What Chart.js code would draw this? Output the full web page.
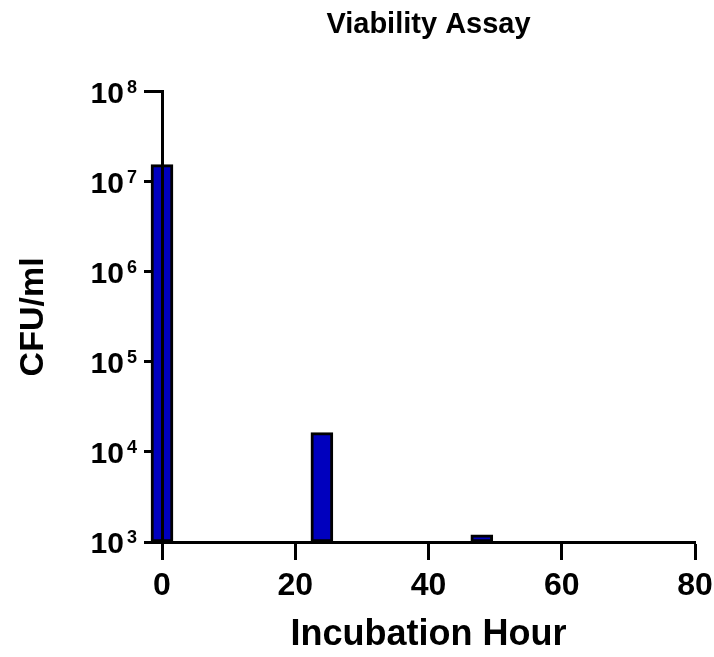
<!DOCTYPE html>
<html>
<head>
<meta charset="utf-8">
<script src="https://cdn.jsdelivr.net/npm/chart.js@4.4.1/dist/chart.umd.min.js"></script>
<style>
    html, body { margin: 0; padding: 0; background: #fff; }
    #wrap { width: 714px; height: 657px; }
</style>
</head>
<body>
<div id="wrap"><canvas id="assayChart" width="714" height="657"></canvas></div>
<script>
const hours = [0, 24, 48];
const cfuPerMl = [1.55e7, 1.64e4, 1.2e3];
const xTicks = [0, 20, 40, 60, 80];
const yExponents = [3, 4, 5, 6, 7, 8];

const FONT = "'Liberation Sans', Arial, sans-serif";

const points = hours.map((h, i) => ({ x: h, y: cfuPerMl[i] }));

// draws the y tick labels as 10 with a raised exponent, like the original
const powerLabels = {
    id: 'powerLabels',
    afterDraw(chart) {
        const scale = chart.scales.y;
        const c = chart.ctx;
        const right = scale.right - 18 - 7;
        c.save();
        c.fillStyle = '#000';
        c.textBaseline = 'alphabetic';
        scale.ticks.forEach(t => {
            const y = scale.getPixelForValue(t.value);
            const exp = String(Math.round(Math.log10(t.value)));
            c.font = `bold 18px ${FONT}`;
            const ew = c.measureText(exp).width;
            c.textAlign = 'left';
            c.fillText(exp, right - ew, y + 1);
            c.font = `bold 30px ${FONT}`;
            c.textAlign = 'right';
            c.fillText('10', right - ew - 3, y + 11);
        });
        c.restore();
    }
};

const ctx = document.getElementById('assayChart').getContext('2d');

new Chart(ctx, {
    type: 'bar',
    data: {
        datasets: [{
            label: 'CFU/ml',
            data: points,
            backgroundColor: '#0000BE',
            borderColor: '#000',
            borderWidth: 3,
            borderSkipped: false,
            barThickness: 22,
            clip: false
        }]
    },
    options: {
        responsive: false,
        animation: false,
        devicePixelRatio: 1,
        layout: {
            padding: { left: 0, right: 19, top: 0, bottom: 0 }
        },
        plugins: {
            legend: { display: false },
            tooltip: { enabled: false },
            title: {
                display: true,
                fullSize: false,
                text: 'Viability Assay',
                color: '#000',
                font: { family: FONT, size: 29, weight: 'bold' },
                padding: { top: 8, bottom: 49 }
            }
        },
        scales: {
            x: {
                type: 'linear',
                min: 0,
                max: 80,
                offset: false,
                afterBuildTicks: (scale) => {
                    scale.ticks = xTicks.map(v => ({ value: v }));
                },
                afterFit: (scale) => {
                    scale.height = 115;
                    scale.paddingLeft = 0;
                    scale.paddingRight = 0;
                },
                grid: {
                    display: true,
                    drawOnChartArea: false,
                    drawTicks: true,
                    tickLength: 18,
                    tickWidth: 3,
                    tickColor: '#000',
                    offset: false
                },
                border: { display: true, color: '#000', width: 3, z: 1 },
                ticks: {
                    color: '#000',
                    padding: 7,
                    maxRotation: 0,
                    font: { family: FONT, size: 32, weight: 'bold' }
                },
                title: {
                    display: true,
                    text: 'Incubation Hour',
                    color: '#000',
                    font: { family: FONT, size: 36, weight: 'bold' },
                    padding: { top: 0, bottom: 0 }
                }
            },
            y: {
                type: 'logarithmic',
                min: 1e3,
                max: 1e8,
                afterBuildTicks: (scale) => {
                    scale.ticks = yExponents.map(e => ({ value: Math.pow(10, e) }));
                },
                afterFit: (scale) => { scale.width = 162; },
                grid: {
                    display: true,
                    drawOnChartArea: false,
                    drawTicks: true,
                    tickLength: 18,
                    tickWidth: 3,
                    tickColor: '#000'
                },
                border: { display: true, color: '#000', width: 3, z: 1 },
                ticks: {
                    display: false
                },
                title: {
                    display: true,
                    text: 'CFU/ml',
                    color: '#000',
                    font: { family: FONT, size: 34, weight: 'bold' },
                    padding: { top: 13, bottom: 0 }
                }
            }
        }
    },
    plugins: [powerLabels]
});
</script>
</body>
</html>
